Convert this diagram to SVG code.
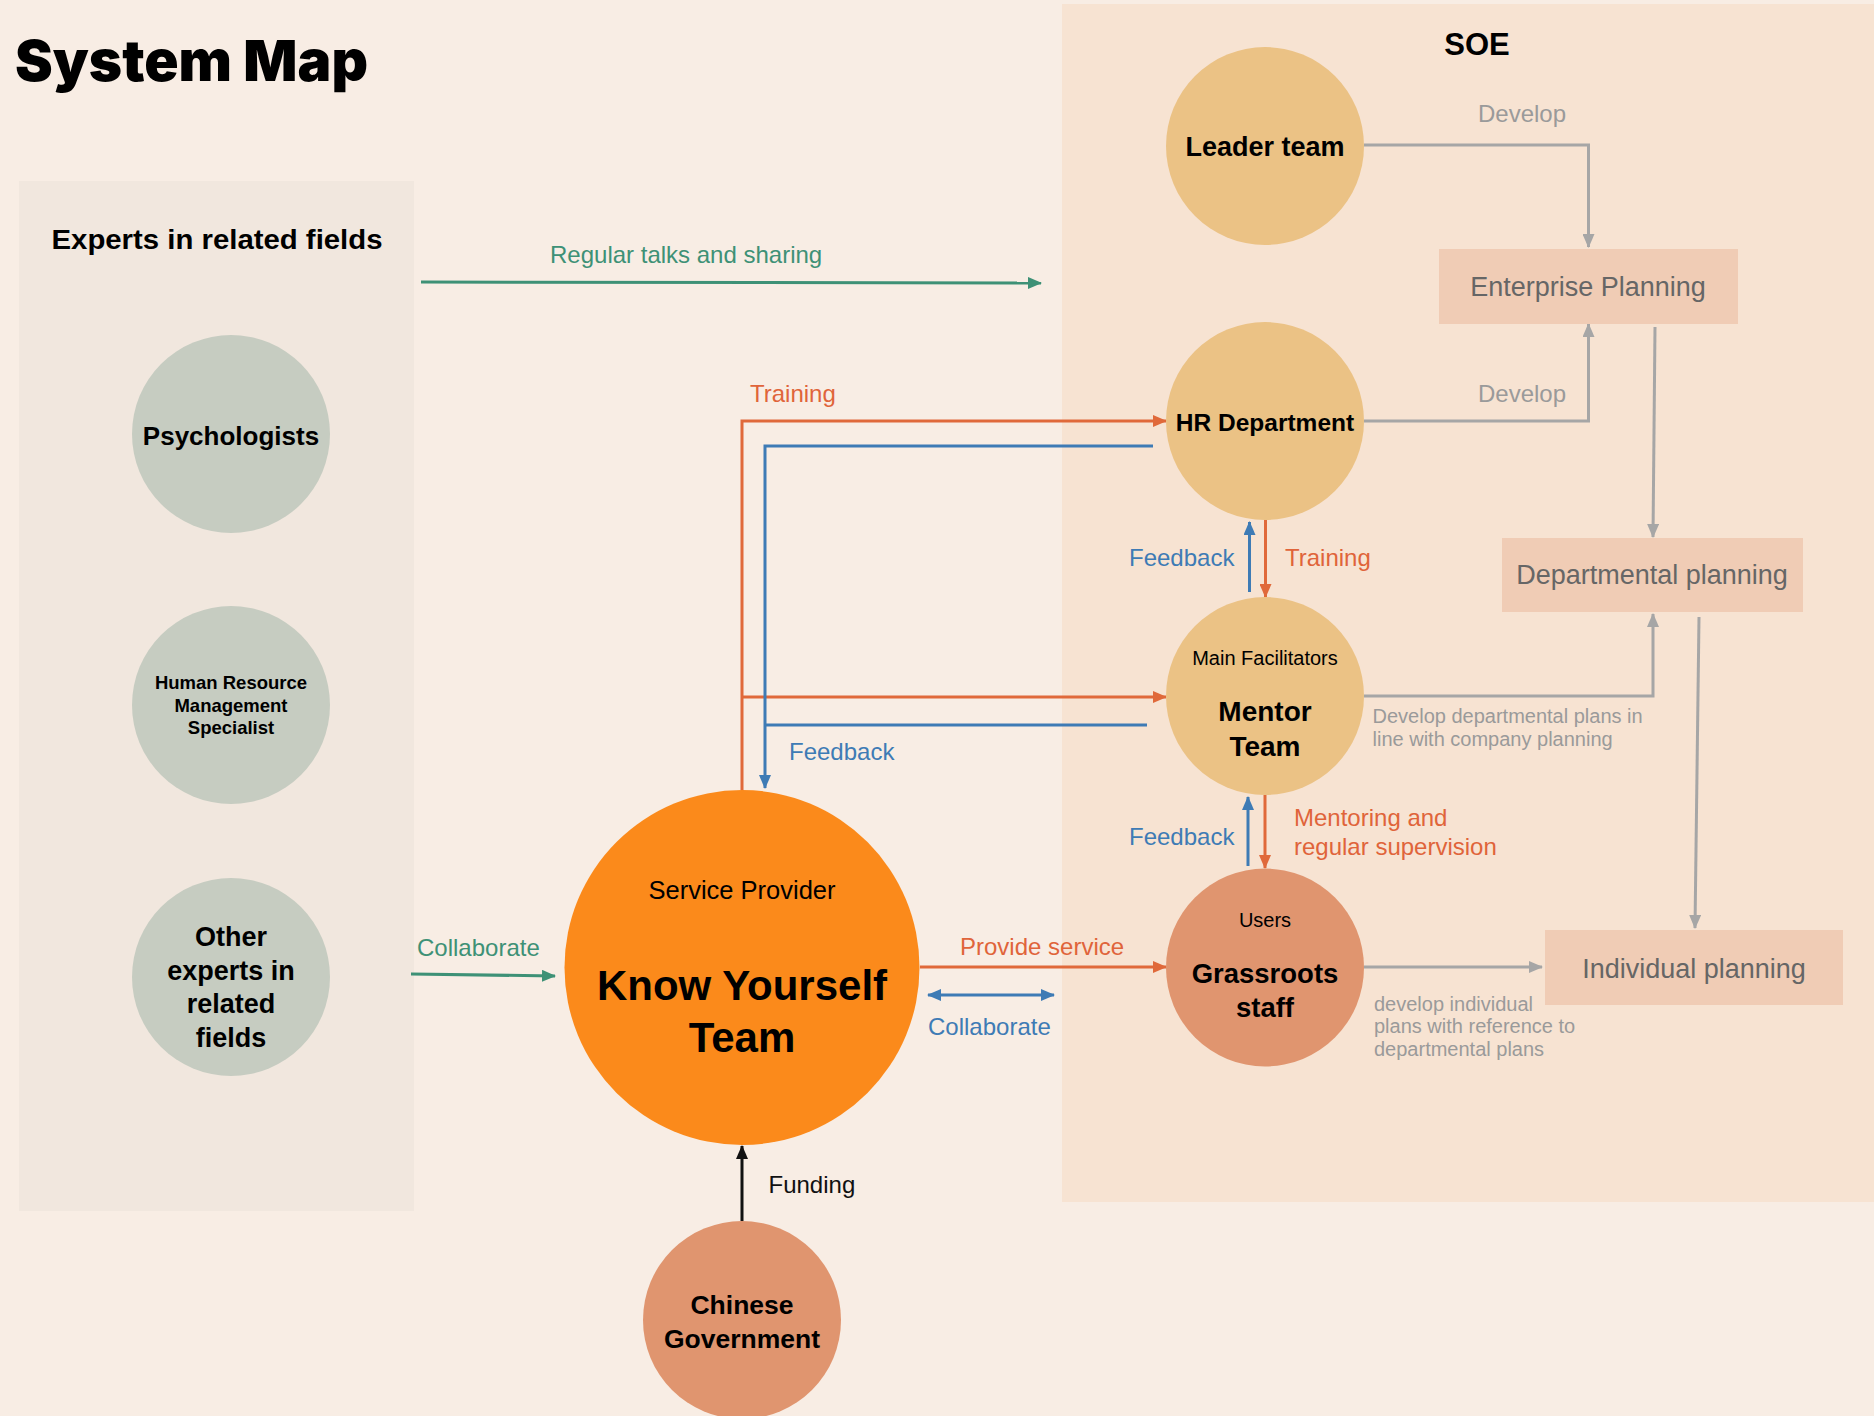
<svg xmlns="http://www.w3.org/2000/svg" width="1874" height="1416" viewBox="0 0 1874 1416">
  <style>
    text { font-family: "Liberation Sans", Arial, Helvetica, sans-serif; }
    .title { font-family: Inter, "Liberation Sans", sans-serif; font-weight: 900; font-size: 57px; fill: #000; }
    .head { font-weight: bold; fill: #000; }
    .node { font-weight: bold; fill: #000; text-anchor: middle; }
    .sub { fill: #000; text-anchor: middle; }
    .lbl { font-size: 24px; }
    .green { fill: #3E9176; }
    .orange { fill: #E0643A; }
    .blue { fill: #3E7BB5; }
    .gray { fill: #9A9A9A; }
    .note { fill: #9A9A9A; font-size: 20px; }
    .boxtxt { fill: #666; font-size: 27px; text-anchor: middle; }
    .expert { fill: #C6CCC1; }
    .soe { fill: #EBC285; }
    .user { fill: #E0956F; }
    .plan { fill: #F0CCB5; }
    .c { fill: none; stroke-width: 3; }
    .cg { stroke: #3E9176; }
    .co { stroke: #E0693A; }
    .cb { stroke: #3E7BB5; }
    .cy { stroke: #A6A6A6; }
    .ck { stroke: #111; }
  </style>
  <defs>
    <marker id="ag" markerUnits="userSpaceOnUse" markerWidth="14" markerHeight="12" refX="13" refY="6" orient="auto"><path d="M0,0 L14,6 L0,12 z" fill="#3E9176"/></marker>
    <marker id="ao" markerUnits="userSpaceOnUse" markerWidth="14" markerHeight="12" refX="13" refY="6" orient="auto"><path d="M0,0 L14,6 L0,12 z" fill="#E0693A"/></marker>
    <marker id="ab" markerUnits="userSpaceOnUse" markerWidth="14" markerHeight="12" refX="13" refY="6" orient="auto"><path d="M0,0 L14,6 L0,12 z" fill="#3E7BB5"/></marker>
    <marker id="abs" markerUnits="userSpaceOnUse" markerWidth="14" markerHeight="12" refX="1" refY="6" orient="auto"><path d="M14,0 L0,6 L14,12 z" fill="#3E7BB5"/></marker>
    <marker id="ay" markerUnits="userSpaceOnUse" markerWidth="14" markerHeight="12" refX="13" refY="6" orient="auto"><path d="M0,0 L14,6 L0,12 z" fill="#A6A6A6"/></marker>
    <marker id="ak" markerUnits="userSpaceOnUse" markerWidth="14" markerHeight="12" refX="13" refY="6" orient="auto"><path d="M0,0 L14,6 L0,12 z" fill="#111"/></marker>
  </defs>

  <!-- page and panels -->
  <rect width="1874" height="1416" fill="#F8EDE4"/>
  <rect id="experts-panel" x="19" y="181" width="395" height="1030" fill="#F1E7DE"/>
  <rect id="soe-panel" x="1062" y="4" width="812" height="1198" fill="#F7E3D2"/>

  <text class="title" x="15" y="81" textLength="353" lengthAdjust="spacingAndGlyphs">System Map</text>
  <text class="head" x="217" y="249" font-size="27" text-anchor="middle" textLength="331" lengthAdjust="spacingAndGlyphs">Experts in related fields</text>
  <text class="head" x="1477" y="55" font-size="31" text-anchor="middle">SOE</text>

  <!-- connectors -->
  <g id="connectors">
    <path class="c cg" d="M421,282 L1041,283" marker-end="url(#ag)"/>
    <path class="c cg" d="M411,974 L555,976" marker-end="url(#ag)"/>
    <path class="c co" d="M742,790 V421 H1166" marker-end="url(#ao)"/>
    <path class="c co" d="M742,697 H1166" marker-end="url(#ao)"/>
    <path class="c cb" d="M1153,446 H765 V788" marker-end="url(#ab)"/>
    <path class="c cb" d="M1147,725 H765"/>
    <path class="c co" d="M920,967 H1166" marker-end="url(#ao)"/>
    <path class="c cb" d="M928,995 H1054" marker-start="url(#abs)" marker-end="url(#ab)"/>
    <path class="c ck" d="M742,1221 V1146" marker-end="url(#ak)"/>
    <path class="c cb" d="M1249.5,592 V522" marker-end="url(#ab)"/>
    <path class="c co" d="M1265.5,520 V597" marker-end="url(#ao)"/>
    <path class="c cb" d="M1248,866 V797" marker-end="url(#ab)"/>
    <path class="c co" d="M1265,795 V868" marker-end="url(#ao)"/>
    <path class="c cy" d="M1364,145 H1588.5 V247" marker-end="url(#ay)"/>
    <path class="c cy" d="M1364,421 H1588.5 V324" marker-end="url(#ay)"/>
    <path class="c cy" d="M1655,327 L1653,537" marker-end="url(#ay)"/>
    <path class="c cy" d="M1364,696 H1653 V614" marker-end="url(#ay)"/>
    <path class="c cy" d="M1699,617 L1695,928" marker-end="url(#ay)"/>
    <path class="c cy" d="M1364,967 H1542" marker-end="url(#ay)"/>
  </g>

  <!-- connector labels -->
  <g id="labels" class="lbl">
    <text class="green" x="550" y="263">Regular talks and sharing</text>
    <text class="green" x="417" y="956">Collaborate</text>
    <text class="orange" x="750" y="402">Training</text>
    <text class="blue" x="789" y="760">Feedback</text>
    <text class="orange" x="960" y="955">Provide service</text>
    <text class="blue" x="928" y="1035">Collaborate</text>
    <text x="768.5" y="1193" fill="#111">Funding</text>
    <text class="gray" x="1478" y="122">Develop</text>
    <text class="gray" x="1478" y="402">Develop</text>
    <text class="blue" x="1129" y="566">Feedback</text>
    <text class="orange" x="1285" y="566">Training</text>
    <text class="blue" x="1129" y="845">Feedback</text>
    <text class="orange" x="1294" y="826">Mentoring and</text>
    <text class="orange" x="1294" y="855">regular supervision</text>
    <text class="note" x="1372.5" y="723">Develop departmental plans in</text>
    <text class="note" x="1372.5" y="746">line with company planning</text>
    <text class="note" x="1374" y="1011">develop individual</text>
    <text class="note" x="1374" y="1033">plans with reference to</text>
    <text class="note" x="1374" y="1056">departmental plans</text>
  </g>

  <!-- experts -->
  <g id="psychologists">
    <circle class="expert" cx="231" cy="434" r="99"/>
    <text class="node" x="231" y="445" font-size="26">Psychologists</text>
  </g>
  <g id="hr-specialist">
    <circle class="expert" cx="231" cy="705" r="99"/>
    <text class="node" x="231" y="689" font-size="18.5">Human Resource</text>
    <text class="node" x="231" y="712" font-size="18.5">Management</text>
    <text class="node" x="231" y="734" font-size="18.5">Specialist</text>
  </g>
  <g id="other-experts">
    <circle class="expert" cx="231" cy="977" r="99"/>
    <text class="node" x="231" y="946" font-size="27">Other</text>
    <text class="node" x="231" y="980" font-size="27">experts in</text>
    <text class="node" x="231" y="1013" font-size="27">related</text>
    <text class="node" x="231" y="1047" font-size="27">fields</text>
  </g>

  <!-- service provider -->
  <g id="know-yourself">
    <circle cx="742" cy="967.5" r="177.5" fill="#FB8A1B"/>
    <text class="sub" x="742" y="899" font-size="25.5">Service Provider</text>
    <text class="node" x="742" y="1000" font-size="42">Know Yourself</text>
    <text class="node" x="742" y="1052" font-size="42">Team</text>
  </g>
  <g id="chinese-government">
    <circle class="user" cx="742" cy="1320" r="99"/>
    <text class="node" x="742" y="1314" font-size="26.5">Chinese</text>
    <text class="node" x="742" y="1348" font-size="26.5">Government</text>
  </g>

  <!-- SOE -->
  <g id="leader-team">
    <circle class="soe" cx="1265" cy="146" r="99"/>
    <text class="node" x="1265" y="156" font-size="27">Leader team</text>
  </g>
  <g id="hr-department">
    <circle class="soe" cx="1265" cy="421" r="99"/>
    <text class="node" x="1265" y="431" font-size="24.5">HR Department</text>
  </g>
  <g id="mentor-team">
    <circle class="soe" cx="1265" cy="696" r="99"/>
    <text class="sub" x="1265" y="665" font-size="20">Main Facilitators</text>
    <text class="node" x="1265" y="721" font-size="28">Mentor</text>
    <text class="node" x="1265" y="756" font-size="28">Team</text>
  </g>
  <g id="grassroots-staff">
    <circle class="user" cx="1265" cy="967.5" r="99"/>
    <text class="sub" x="1265" y="927" font-size="20">Users</text>
    <text class="node" x="1265" y="982.5" font-size="27.5">Grassroots</text>
    <text class="node" x="1265" y="1017" font-size="27.5">staff</text>
  </g>
  <g id="enterprise-planning">
    <rect class="plan" x="1439" y="249" width="299" height="75"/>
    <text class="boxtxt" x="1588" y="296" font-size="26.5">Enterprise Planning</text>
  </g>
  <g id="departmental-planning">
    <rect class="plan" x="1502" y="538" width="301" height="74"/>
    <text class="boxtxt" x="1652" y="584">Departmental planning</text>
  </g>
  <g id="individual-planning">
    <rect class="plan" x="1545" y="930" width="298" height="75"/>
    <text class="boxtxt" x="1694" y="978">Individual planning</text>
  </g>
</svg>
